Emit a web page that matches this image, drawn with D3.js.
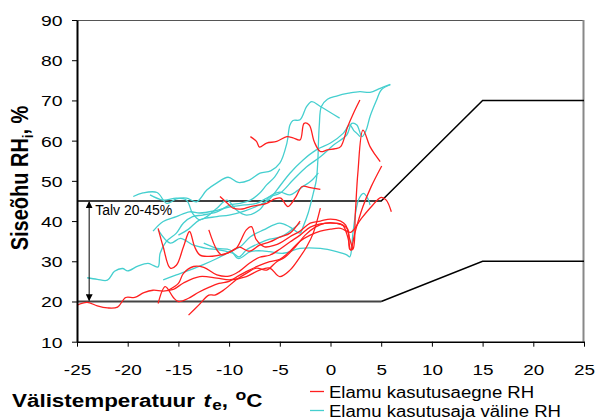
<!DOCTYPE html>
<html>
<head>
<meta charset="utf-8">
<script src="https://cdn.jsdelivr.net/npm/d3@7"></script>
<style>
  html, body { margin: 0; padding: 0; background: #fff; }
  svg { display: block; }
  text { font-family: "Liberation Sans", Arial, sans-serif; fill: #000; }
</style>
</head>
<body>
<svg id="chart" width="595" height="420"></svg>
<script>
// Axis ticks
const xTicks = [-25, -20, -15, -10, -5, 0, 5, 10, 15, 20, 25];
const yTicks = [10, 20, 30, 40, 50, 60, 70, 80, 90];

// Indoor RH vs outdoor temperature, occupied period (red)
const red1 = [[-25,19.1],[-24,19.8],[-23,18.9],[-22,18.4],[-21,18.6],[-20.2,21],[-19.3,21],[-18.4,22.2],[-17.5,22.8],[-16.5,22.6],[-15.5,23],[-14.5,24.6],[-12.9,26.2],[-11.2,25.8],[-9.9,25.4],[-8.3,26.2],[-7,27.8],[-6,28.3],[-5,26.2],[-4,27.8],[-3,31.1],[-2.35,33.6],[-1.7,37],[-1,43.2]];
const red2 = [[-17,19.5],[-16.3,23.7],[-15.5,21],[-15,20],[-14,20.8],[-13,22.3],[-12,23.5],[-11,24.5],[-10,25],[-9,26.5],[-8,27.8],[-7,29],[-6,29.9],[-5,30.5],[-4,32.5],[-3,35],[-2,36.5],[-1,37.5],[0,38],[1,38.2],[2,37.2],[3,40.5],[4,43.5],[5,45.9],[5.5,45.2],[6,42.3]];
const red3 = [[-14,16.6],[-13,19.1],[-12,21.6],[-11.4,21.6],[-10.5,22.9],[-9.3,25.4],[-8.3,27],[-7.3,28.3],[-6.3,27.8],[-5.3,29.9],[-4.5,31],[-3.5,33.5],[-2.5,36.5],[-1.5,38.5],[-0.5,39.5],[0.5,39.5],[1.2,39],[1.7,36],[2,32.8],[2.4,37],[3.2,43.6],[4,48.5],[5.05,53.7]];
const red4 = [[-16,22.8],[-15,24.5],[-14.5,27],[-13.5,28.7],[-12.5,28.5],[-11.2,26.6],[-10,26.3],[-9,27.5],[-8,29.5],[-7,31],[-6,31.5],[-5,33],[-4,34.8],[-3,36.5],[-2,38.5],[-1,39.3],[0,39.5],[1,39.2],[1.7,38],[1.9,33],[2.2,33],[2.45,42],[2.7,52],[3.2,62.6],[3.9,58.5],[4.4,56.5],[4.9,54.8]];
const red5 = [[-17,38.2],[-16.5,33.6],[-15.8,28.3],[-15.2,29],[-14.5,33.6],[-13.9,37.4],[-13.4,33.6],[-12.9,31.6],[-12.1,31.2],[-11.2,31.4],[-10.2,32],[-9.3,33.2],[-8.3,37.8],[-7.8,38.6],[-7.3,35.3],[-6.5,33.6],[-5.5,34],[-5,34.5],[-4,36.1],[-3,37.5],[-2,39.5],[-1,40],[0,40.5],[1,40],[1.5,39],[1.9,35.5],[2.2,33]];
const red6 = [[-12,37.8],[-11.2,32.8],[-10.7,31.6],[-9.9,32.4],[-9,33.5],[-8,32.5],[-7,34],[-6,34.8],[-5,36],[-4,37],[-3,40]];
const red7 = [[-10.9,46.1],[-10.2,44.5],[-9.6,43.2],[-8.7,43],[-7.9,43.6],[-7,44],[-6.3,44.4],[-5.5,45.5],[-4.9,45.7],[-4.2,43.6],[-3.4,46.1],[-2.8,48.6],[-2,48.3],[-1,47.9]];
const red8 = [[-7.9,61],[-7.3,59.8],[-7,58.4],[-6.3,59.4],[-5.3,59.8],[-4.3,61],[-3.7,60.7],[-3,60.2],[-2.6,64.3],[-2.1,63.9],[-1.6,59.7],[-1,57.3],[-0.3,57.7],[0.5,58],[1,58.5],[1.7,63.5],[2.3,67],[2.9,70.1]];

// Indoor RH vs outdoor temperature, unoccupied period (cyan)
const cyan1 = [[-24,25.9],[-23,25.5],[-22,25.3],[-21.3,27.5],[-20.5,28.2],[-20,27.6],[-19,28.8],[-18,29.5],[-17.5,29],[-17,28.6],[-16.8,32],[-16.2,34.9],[-15.2,37],[-14.5,39.5],[-13.6,41.1],[-12.6,41.5],[-11.2,42.3],[-9.9,44],[-8.9,44.4],[-7.9,45.2],[-7,46.9],[-6.3,49],[-5.5,51],[-5,53]];
const cyan2 = [[-19.45,46.1],[-18.5,47],[-17.1,47.1],[-16.15,44.4],[-15.2,45.5],[-14.2,45.7],[-13.2,44.8],[-12.2,47.7],[-11.2,49.5],[-10.1,50.9],[-9.1,49.6],[-8,50.2],[-6.95,51.9],[-5.9,52.5],[-5,54.4],[-4.3,59.4],[-4,63.9],[-3.7,65],[-3,65.2],[-2.35,68.5],[-1.85,69.7],[-1,68.5],[0.9,65.6]];
const cyan3 = [[-17.8,46.5],[-16.5,45.2],[-15.2,45.7],[-14.2,45.2],[-13.6,41.9],[-12.9,40.3],[-12.2,41.1],[-11.2,43.2],[-10.2,45.2],[-9.3,42.8],[-8.3,41.5],[-7,42.8],[-6,46.1],[-5,47.2],[-4,46.5],[-3.3,47.5],[-2.7,48.6],[-1.9,50],[-1.2,52]];
const cyan4 = [[-17.5,37.5],[-16.5,39.9],[-15.2,41.1],[-13.9,42.3],[-12.9,42],[-11.5,42.5],[-10,43.5],[-8.5,44],[-7.3,44.4],[-6,46.1],[-5,46.9],[-3.7,50.2],[-2.35,53.5],[-1,56],[0.3,58.9],[1.6,61.4],[2.1,64.3],[2.6,63.9],[3.1,61],[3.5,62.5],[3.9,66],[4.55,70.1],[5,72.6],[5.9,73.9]];
const cyan5 = [[-16.5,25.4],[-15.2,26.6],[-13.9,27.8],[-12.6,29.1],[-11.2,30.7],[-9.9,32.4],[-8.9,33.6],[-7.9,36.1],[-6.6,37.8],[-5,39.5],[-4,38.5],[-3,37],[-2.7,38.6],[-2.2,42],[-1.7,46.9],[-1.4,50.2],[-1.25,55],[-1.18,60],[-1.1,64],[-0.9,68.5],[-0.3,70.3],[0.6,71.1],[1.8,71.8],[2.9,72.2],[3.9,72],[4.9,73],[5.9,74]];
const cyan6 = [[-17,37.8],[-15.8,34.5],[-14.8,35.7],[-13.5,34],[-12.2,33.2],[-10.9,32.8],[-9.6,32],[-9,31.1],[-8.3,32.8],[-7,34.5],[-6,35.5],[-5,36],[-4,37.5],[-3,39.5]];
const cyan7 = [[-12.5,34.5],[-11.2,33.2],[-9.9,32.8],[-9.1,30.7],[-7.9,32.4],[-6.7,32.6],[-6,32.4],[-4.65,32],[-3,33.2],[-1,33.2],[0.6,32.4],[1.6,31.6],[1.9,31.1],[2.25,37.8],[2.75,45.2],[3.25,46.9],[3.7,45.5],[3.9,44]];
const cyan8 = [[-15,36.5],[-14,38],[-12.9,40.3],[-11.2,41.1],[-10,41.5],[-8.5,42.5],[-7,44],[-6,45.5],[-5.3,47.7],[-4,51.9],[-2.7,55.2],[-1.4,57.7],[0,59.4],[1.25,61.8],[1.9,63.9],[2.3,62.5],[2.6,61.8],[2.9,61]];

const redSeries = [red1, red2, red3, red4, red5, red6, red7, red8];
const cyanSeries = [cyan1, cyan2, cyan3, cyan4, cyan5, cyan6, cyan7, cyan8];

// Recommended indoor RH envelope
const limitUpper = [[-25,45],[5,45],[15,70],[25,70]];
const limitLower = [[-25,20],[5,20],[15,30],[25,30]];
const winterRange = [20, 45];
const winterArrowX = -23.8;

const legendLabels = ["Elamu kasutusaegne RH", "Elamu kasutusaja väline RH"];
const RED = "#ff1f1f";
const CYAN = "#45cfcf";

const svg = d3.select("#chart");
const plotLeft = 77, plotRight = 584, plotTop = 20, plotBottom = 341.7;

const x = d3.scaleLinear().domain([-25, 25]).range([plotLeft, plotRight]);
const y = d3.scaleLinear().domain([10, 90]).range([plotBottom, plotTop]);

const defs = svg.append("defs");
defs.append("clipPath").attr("id", "plotClip")
  .append("rect").attr("x", plotLeft).attr("y", plotTop)
  .attr("width", plotRight - plotLeft).attr("height", plotBottom - plotTop);
defs.append("marker").attr("id", "arrowHead")
  .attr("viewBox", "0 0 10 10").attr("refX", 9).attr("refY", 5)
  .attr("markerWidth", 7).attr("markerHeight", 7)
  .attr("markerUnits", "userSpaceOnUse")
  .attr("orient", "auto-start-reverse")
  .append("path").attr("d", "M0,0 L10,5 L0,10 z").attr("fill", "#000");

// Frame: top and right borders
svg.append("line").attr("x1", plotLeft).attr("x2", plotRight).attr("y1", plotTop + 0.5).attr("y2", plotTop + 0.5)
  .attr("stroke", "#555").attr("stroke-width", 1);
svg.append("line").attr("x1", plotRight - 0.5).attr("x2", plotRight - 0.5).attr("y1", plotTop).attr("y2", plotBottom)
  .attr("stroke", "#888").attr("stroke-width", 2);

const line = d3.line().x(d => x(d[0])).y(d => y(d[1]));
const smooth = d3.line().x(d => x(d[0])).y(d => y(d[1])).curve(d3.curveCatmullRom.alpha(0.5));

// Envelope lines
svg.append("path").datum(limitUpper).attr("d", line)
  .attr("fill", "none").attr("stroke", "#000").attr("stroke-width", 1.5);
svg.append("path").datum(limitLower.slice(1)).attr("d", line)
  .attr("fill", "none").attr("stroke", "#000").attr("stroke-width", 1.4);
svg.append("path").datum(limitLower.slice(0, 2)).attr("d", line)
  .attr("fill", "none").attr("stroke", "#444").attr("stroke-width", 2.2);

// Measured curves
const plot = svg.append("g").attr("clip-path", "url(#plotClip)");
plot.selectAll("path.cyan").data(cyanSeries).join("path").attr("class", "cyan")
  .attr("d", smooth).attr("fill", "none").attr("stroke", CYAN).attr("stroke-width", 1.3);
plot.selectAll("path.red").data(redSeries).join("path").attr("class", "red")
  .attr("d", smooth).attr("fill", "none").attr("stroke", RED).attr("stroke-width", 1.3);

// Winter range arrow
svg.append("line")
  .attr("x1", x(winterArrowX)).attr("x2", x(winterArrowX))
  .attr("y1", y(winterRange[1]) + 1).attr("y2", y(winterRange[0]) - 1)
  .attr("stroke", "#000").attr("stroke-width", 1)
  .attr("marker-start", "url(#arrowHead)").attr("marker-end", "url(#arrowHead)");
svg.append("text")
  .attr("x", x(winterArrowX) + 6).attr("y", y(winterRange[1]) + 14)
  .attr("font-size", "14px")
  .text(`Talv ${winterRange[0]}-${winterRange[1]}%`);

// Axes (plain hyphen for negative numbers)
const tickFmt = d => String(d);
const xAxis = svg.append("g").attr("transform", `translate(0,${plotBottom})`)
  .call(d3.axisBottom(x).tickValues(xTicks).tickSize(5).tickSizeOuter(0).tickFormat(tickFmt));
xAxis.select(".domain").attr("stroke", "#000").attr("stroke-width", 1.5);
xAxis.selectAll(".tick line").attr("stroke", "#000").attr("stroke-width", 1);
xAxis.selectAll(".tick text")
  .attr("y", 0).attr("dy", 0)
  .attr("transform", "translate(0,33) scale(1.22,1)")
  .attr("font-size", "15.5px").attr("font-family", "Liberation Sans, Arial, sans-serif").attr("fill", "#000");

const yAxis = svg.append("g").attr("transform", `translate(${plotLeft},0)`)
  .call(d3.axisLeft(y).tickValues(yTicks).tickSize(5).tickSizeOuter(0).tickFormat(tickFmt));
yAxis.select(".domain").attr("stroke", "#000").attr("stroke-width", 2);
yAxis.selectAll(".tick line").attr("stroke", "#000").attr("stroke-width", 1);
yAxis.selectAll(".tick text")
  .attr("x", 0).attr("dy", 0).attr("y", 0)
  .attr("transform", "translate(-14.5,5.5) scale(1.25,1)")
  .attr("font-size", "15.5px").attr("font-family", "Liberation Sans, Arial, sans-serif").attr("fill", "#000");

// Axis titles
const yTitle = svg.append("text")
  .attr("transform", "translate(28,178) rotate(-90) scale(1,1.15)")
  .attr("text-anchor", "middle").attr("font-size", "20px").attr("font-weight", "bold");
yTitle.append("tspan").text("Siseõhu RH");
yTitle.append("tspan").attr("font-size", "13px").attr("dy", 4).text("i");
yTitle.append("tspan").attr("dy", -4).text(", %");

const xTitle = svg.append("text")
  .attr("transform", "translate(12,407) scale(1.18,1)")
  .attr("font-size", "19px").attr("font-weight", "bold");
xTitle.append("tspan").text("Välistemperatuur ");
xTitle.append("tspan").attr("font-style", "italic").attr("dx", 2).text("t");
xTitle.append("tspan").attr("font-size", "14.5px").attr("dx", 1).attr("dy", 3).text("e");
xTitle.append("tspan").attr("dy", -3).text(", ");
xTitle.append("tspan").attr("font-size", "15px").attr("dx", 1).attr("dy", -7).text("o");
xTitle.append("tspan").attr("dy", 7).text("C");

// Legend
const legend = svg.append("g");
[RED, CYAN].forEach((c, i) => {
  const ly = 391.5 + i * 19;
  legend.append("line").attr("x1", 310).attr("x2", 324).attr("y1", ly).attr("y2", ly)
    .attr("stroke", c).attr("stroke-width", 1.3);
  legend.append("text").attr("transform", `translate(329,${ly + 6}) scale(1.16,1)`)
    .attr("font-size", "16px").text(legendLabels[i]);
});
</script>
</body>
</html>
